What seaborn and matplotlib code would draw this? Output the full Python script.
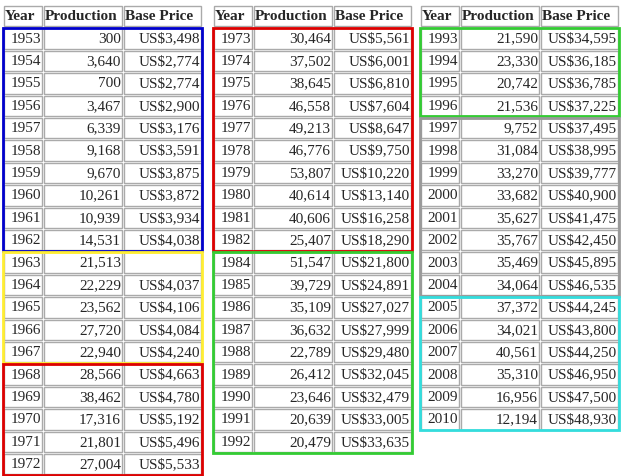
import matplotlib
matplotlib.use("Agg")
import matplotlib.pyplot as plt
from matplotlib.patches import Rectangle
import seaborn as sns

sns.set_style("white")
plt.rcParams['font.family'] = ['Liberation Serif', 'DejaVu Serif']

headers = ["Year", "Production", "Base Price"]

years1 = list(range(1953, 1973))
prod1 = [300, 3640, 700, 3467, 6339, 9168, 9670, 10261, 10939, 14531,
         21513, 22229, 23562, 27720, 22940, 28566, 38462, 17316, 21801, 27004]
price1 = [3498, 2774, 2774, 2900, 3176, 3591, 3875, 3872, 3934, 4038,
          None, 4037, 4106, 4084, 4240, 4663, 4780, 5192, 5496, 5533]

years2 = list(range(1973, 1983)) + list(range(1984, 1993))
prod2 = [30464, 37502, 38645, 46558, 49213, 46776, 53807, 40614, 40606, 25407,
         51547, 39729, 35109, 36632, 22789, 26412, 23646, 20639, 20479]
price2 = [5561, 6001, 6810, 7604, 8647, 9750, 10220, 13140, 16258, 18290,
          21800, 24891, 27027, 27999, 29480, 32045, 32479, 33005, 33635]

years3 = list(range(1993, 2011))
prod3 = [21590, 23330, 20742, 21536, 9752, 31084, 33270, 33682, 35627, 35767,
         35469, 34064, 37372, 34021, 40561, 35310, 16956, 12194]
price3 = [34595, 36185, 36785, 37225, 37495, 38995, 39777, 40900, 41475, 42450,
          45895, 46535, 44245, 43800, 44250, 46950, 47500, 48930]

# (first row, last row, colour) for each highlighted group
groups1 = [(0, 9, "#0000cc"), (10, 14, "#ffee33"), (15, 19, "#dd0000")]
groups2 = [(0, 9, "#dd0000"), (10, 18, "#33cc33")]
groups3 = [(0, 3, "#33cc33"), (4, 11, "#999999"), (12, 17, "#33dddd")]

tables = [
    (3, years1, prod1, price1, groups1),
    (213, years2, prod2, price2, groups2),
    (420, years3, prod3, price3, groups3),
]
col_w = [40, 80, 79]
row_h = 22.4
top = 5

fig = plt.figure(figsize=(6.22, 4.76), dpi=100)
ax = fig.add_axes([0, 0, 1, 1])
ax.set_xlim(0, 622)
ax.set_ylim(476, 0)
ax.axis("off")

for x0, yrs, prod, price, groups in tables:
    xs = [x0, x0 + col_w[0], x0 + col_w[0] + col_w[1]]
    n = len(yrs)
    # header
    for j, h in enumerate(headers):
        ax.add_patch(Rectangle((xs[j] + 1, top + 1), col_w[j] - 2, row_h - 2,
                               fill=False, ec="#aaaaaa", lw=1))
        ax.text(xs[j] + 2, top + row_h / 2 + 0.5, h, ha="left", va="center",
                fontsize=11, fontweight="bold")
    for i in range(n):
        y = top + row_h * (i + 1)
        vals = [str(yrs[i]), f"{prod[i]:,}",
                "" if price[i] is None else f"US${price[i]:,}"]
        for j, v in enumerate(vals):
            ax.add_patch(Rectangle((xs[j] + 1, y + 1), col_w[j] - 2, row_h - 2,
                                   fill=False, ec="#aaaaaa", lw=1))
            ax.text(xs[j] + col_w[j] - 2, y + row_h / 2 + 0.5, v, ha="right",
                    va="center", fontsize=11)
    for a, b, c in groups:
        ya = top + row_h * (a + 1)
        yb = top + row_h * (b + 2)
        ax.add_patch(Rectangle((x0, ya + 0.5), sum(col_w), yb - ya - 1,
                               fill=False, ec=c, lw=2))

fig.savefig("out.png", dpi=100)
